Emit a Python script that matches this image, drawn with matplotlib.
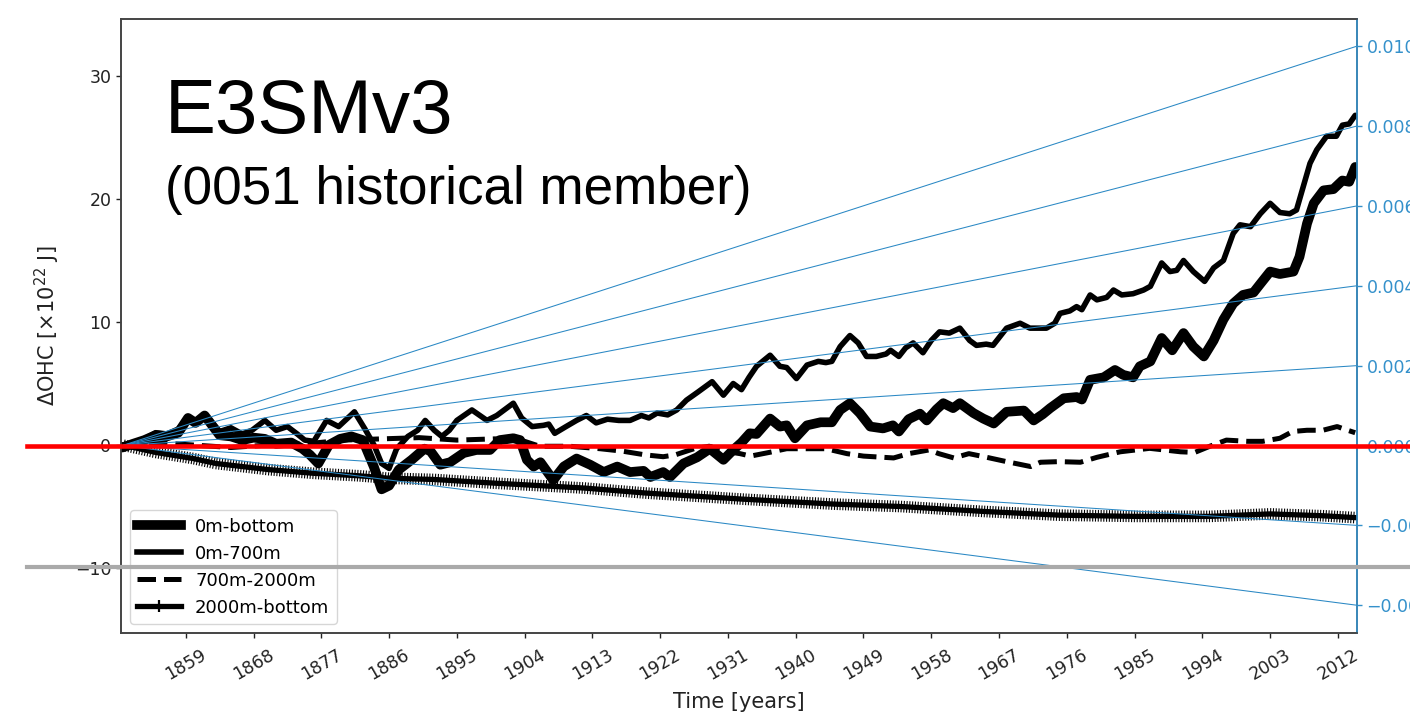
import matplotlib
matplotlib.use("Agg")
import matplotlib.pyplot as plt
from matplotlib.lines import Line2D
from matplotlib import patheffects as pe
from matplotlib.transforms import blended_transform_factory

# ---------------------------------------------------------------------------
# Ocean heat content anomaly, E3SMv3 historical member 0051  [10^22 J]
# ---------------------------------------------------------------------------
yrs_total = [1850.6, 1852.0, 1853.5, 1855.0, 1856.5, 1858.0, 1859.3, 1860.3, 1861.5, 1862.5,
             1863.5, 1865.0, 1866.5, 1868.0, 1869.5, 1871.0, 1873.0, 1874.5, 1875.5, 1876.6,
             1878.0, 1879.5, 1881.0, 1882.5, 1884.0, 1885.0, 1886.0, 1887.3, 1889.0, 1890.7,
             1891.5, 1892.8, 1894.1, 1895.9, 1897.6, 1899.4, 1900.7, 1902.5, 1903.4, 1904.3,
             1905.2, 1906.1, 1907.8, 1909.2, 1910.9, 1912.7, 1914.5, 1916.3, 1918.0, 1919.8,
             1920.7, 1922.4, 1923.3, 1925.1, 1926.9, 1928.6, 1930.4, 1931.7, 1932.8, 1933.9,
             1934.8, 1936.6, 1937.9, 1938.8, 1939.9, 1941.5, 1943.3, 1944.8, 1945.9, 1947.2,
             1948.5, 1949.9, 1951.6, 1952.9, 1953.7, 1955.0, 1956.5, 1957.4, 1958.7, 1959.6,
             1960.9, 1961.8, 1963.6, 1964.9, 1966.3, 1968.0, 1970.3, 1971.6, 1972.8, 1973.8,
             1975.6, 1977.3, 1978.0, 1979.1, 1980.9, 1982.4, 1983.5, 1984.8, 1985.7, 1987.1,
             1988.6, 1990.0, 1991.5, 1992.8, 1994.2, 1995.5, 1996.8, 1998.1, 1999.4, 2000.8,
             2001.7, 2003.0, 2004.3, 2006.1, 2006.9, 2007.9, 2008.8, 2010.1, 2011.4, 2012.6,
             2013.5, 2014.3]
ohc_total = [-0.2, 0.1, 0.4, 0.8, 0.7, 1.0, 2.2, 1.8, 2.4, 1.6,
             0.8, 0.7, 0.4, 0.6, 0.5, 0.1, 0.2, -0.3, -0.8, -1.5,
             0.0, 0.5, 0.7, 0.4, -1.8, -3.6, -3.3, -2.0, -1.2, -0.3,
             -0.5, -1.6, -1.4, -0.65, -0.4, -0.4, 0.4, 0.55, 0.4, -1.2,
             -1.75, -1.4, -2.85, -1.75, -1.1, -1.6, -2.2, -1.75, -2.2, -2.1,
             -2.6, -2.2, -2.6, -1.5, -1.0, -0.3, -1.2, -0.4, 0.2, 0.95,
             0.9, 2.15, 1.5, 1.6, 0.55, 1.6, 1.85, 1.85, 2.85, 3.4,
             2.6, 1.5, 1.35, 1.6, 1.1, 2.1, 2.55, 2.0, 2.9, 3.4,
             3.0, 3.4, 2.6, 2.15, 1.75, 2.7, 2.8, 2.0, 2.5, 3.0,
             3.8, 3.9, 3.7, 5.3, 5.5, 6.1, 5.7, 5.5, 6.4, 6.8,
             8.7, 7.7, 9.1, 8.0, 7.2, 8.5, 10.2, 11.5, 12.2, 12.4,
             13.1, 14.1, 13.9, 14.1, 15.3, 18.0, 19.65, 20.7, 20.8, 21.5,
             21.4, 22.6]

yrs_upper = [1850.6, 1852.0, 1853.5, 1855.0, 1856.5, 1858.0, 1859.3, 1860.3, 1861.5, 1862.5,
             1863.5, 1865.0, 1866.5, 1867.8, 1869.5, 1871.0, 1872.5, 1873.8, 1874.8, 1876.0,
             1877.7, 1879.3, 1881.4, 1882.8, 1884.0, 1885.0, 1886.0, 1887.0, 1888.5, 1889.8,
             1890.8, 1892.0, 1893.0, 1894.0, 1895.0, 1897.0, 1899.0, 1900.3, 1902.5, 1903.6,
             1905.0, 1906.5, 1907.2, 1908.0, 1909.5, 1910.9, 1912.2, 1913.5, 1915.0, 1916.5,
             1918.0, 1919.5, 1920.5, 1921.6, 1923.0, 1924.2, 1925.5, 1927.0, 1928.9, 1930.4,
             1931.7, 1932.8, 1933.8, 1934.8, 1936.6, 1937.9, 1938.8, 1940.1, 1941.5, 1943.0,
             1944.0, 1944.8, 1945.9, 1947.2, 1948.3, 1949.4, 1950.7, 1952.0, 1952.6, 1953.7,
             1954.6, 1955.6, 1956.9, 1958.0, 1959.1, 1960.4, 1961.8, 1963.1, 1964.0, 1965.3,
             1966.2, 1967.1, 1968.0, 1969.8, 1971.1, 1973.3, 1974.4, 1975.1, 1976.4, 1977.3,
             1978.0, 1979.1, 1980.0, 1981.3, 1982.2, 1983.3, 1984.8, 1986.2, 1987.1, 1988.6,
             1989.7, 1990.6, 1991.5, 1992.8, 1994.3, 1995.5, 1996.8, 1998.1, 1999.0, 2000.4,
             2001.7, 2003.0, 2004.3, 2005.6, 2006.5, 2007.4, 2008.3, 2009.2, 2010.5, 2011.8,
             2012.6, 2013.5, 2014.3]
ohc_upper = [0.0, 0.2, 0.5, 1.0, 0.9, 1.3, 2.2, 1.9, 2.5, 1.8,
             1.1, 1.4, 0.9, 1.2, 2.0, 1.2, 1.5, 0.9, 0.4, 0.3,
             2.0, 1.5, 2.7, 1.3, 0.0, -1.5, -1.9, -0.3, 0.7, 1.2,
             2.0, 1.2, 0.7, 1.2, 2.0, 2.85, 2.0, 2.4, 3.4, 2.2,
             1.5, 1.6, 1.7, 0.95, 1.5, 2.0, 2.4, 1.8, 2.1, 2.0,
             2.0, 2.4, 2.2, 2.6, 2.45, 2.85, 3.65, 4.3, 5.15, 4.05,
             5.0, 4.5, 5.5, 6.4, 7.3, 6.4, 6.3, 5.4, 6.5, 6.8,
             6.7, 6.8, 8.0, 8.9, 8.3, 7.2, 7.2, 7.4, 7.7, 7.2,
             7.9, 8.3, 7.5, 8.5, 9.2, 9.1, 9.5, 8.5, 8.1, 8.2,
             8.1, 8.8, 9.5, 9.9, 9.5, 9.5, 9.9, 10.7, 10.9, 11.25,
             11.0, 12.2, 11.8, 12.0, 12.6, 12.2, 12.3, 12.6, 12.9, 14.8,
             14.1, 14.2, 15.0, 14.1, 13.3, 14.4, 15.0, 17.2, 17.9, 17.75,
             18.8, 19.65, 18.9, 18.8, 19.1, 21.0, 22.9, 24.0, 25.1, 25.1,
             26.0, 26.1, 26.8]

yrs_mid = [1850.6, 1855.0, 1860.0, 1865.0, 1870.0, 1875.0, 1880.0, 1885.0, 1890.0, 1895.0,
           1900.0, 1903.0, 1906.0, 1910.0, 1914.0, 1917.0, 1920.0, 1922.4, 1924.0, 1926.5,
           1928.5, 1930.5, 1932.6, 1934.0, 1936.5, 1938.8, 1941.5, 1944.0, 1946.8, 1949.0,
           1953.0, 1955.0, 1957.7, 1959.0, 1961.0, 1963.0, 1965.0, 1968.0, 1971.2, 1972.5,
           1975.0, 1977.8, 1980.0, 1983.1, 1987.0, 1991.1, 1993.0, 1995.0, 1997.2, 2000.0,
           2002.0, 2004.3, 2006.0, 2007.9, 2010.0, 2011.9, 2013.3, 2014.3]
ohc_mid = [0.0, 0.2, 0.0, -0.2, 0.0, 0.1, 0.4, 0.5, 0.6, 0.4,
           0.5, 0.5, -0.1, -0.1, -0.3, -0.5, -0.8, -0.95, -0.8, -0.3,
           -0.1, -0.5, -0.7, -0.9, -0.6, -0.3, -0.3, -0.3, -0.7, -0.9,
           -1.05, -0.7, -0.4, -0.7, -1.05, -0.7, -0.95, -1.35, -1.75, -1.4,
           -1.35, -1.4, -1.0, -0.55, -0.27, -0.55, -0.6, -0.1, 0.4, 0.3,
           0.3, 0.55, 1.1, 1.2, 1.2, 1.5, 1.2, 1.0]

yrs_deep = [1850.6, 1855.0, 1860.0, 1863.0, 1870.0, 1876.0, 1882.0, 1886.0, 1892.0, 1900.0,
            1912.0, 1920.0, 1933.0, 1945.0, 1954.0, 1965.0, 1975.0, 1985.0, 1995.0, 2003.0,
            2010.0, 2014.3]
ohc_deep = [0.0, -0.6, -1.1, -1.5, -2.0, -2.3, -2.5, -2.7, -2.8, -3.1,
            -3.5, -3.9, -4.4, -4.8, -5.0, -5.4, -5.7, -5.8, -5.8, -5.6,
            -5.75, -5.9]

series_labels = ["0m-bottom", "0m-700m", "700m-2000m", "2000m-bottom"]

# heating-rate guide lines (right axis units)
rate_ticks = [-0.004, -0.002, 0.0, 0.002, 0.004, 0.006, 0.008, 0.010]
rate_labels = ["\u22120.004", "\u22120.002", "0.000", "0.002", "0.004", "0.006", "0.008", "0.010"]

ohc_ticks = [-10, 0, 10, 20, 30]
year_ticks = list(range(1859, 2013, 9))
reference_level = -9.9

# ---------------------------------------------------------------------------
blue = "#3591cb"
fan_blue = "#2a88c4"
spine_grey = "#444444"

fig = plt.figure(figsize=(14.1, 7.16), dpi=100)
fig.patch.set_facecolor("white")
ax = fig.add_axes([0.08582, 0.11592, 0.87638, 0.85754])

ax.plot(yrs_total, ohc_total, color="k", lw=7.0, solid_joinstyle="round",
        solid_capstyle="round", zorder=3)
ax.plot(yrs_upper, ohc_upper, color="k", lw=4.0, solid_joinstyle="round",
        solid_capstyle="round", zorder=3)
ax.plot(yrs_mid, ohc_mid, color="k", lw=3.6, ls="--", zorder=3)
ax.plot(yrs_deep, ohc_deep, color="k", lw=3.8, zorder=3,
        path_effects=[pe.Normal(),
                      pe.TickedStroke(spacing=2.0, angle=90, length=1.9, linewidth=0.8),
                      pe.TickedStroke(spacing=2.0, angle=-90, length=1.9, linewidth=0.8)])

ax.set_xlim(1850.4, 2014.5)
ax.set_ylim(-15.28, 34.63)
ax.set_yticks(ohc_ticks)
ax.set_xticks(year_ticks)
ax.set_xticklabels([str(y) for y in year_ticks], rotation=30)
ax.tick_params(axis="both", labelsize=12.5, colors="#222222", width=1.0)
ax.tick_params(axis="x", pad=6)
for s in ax.spines.values():
    s.set_color(spine_grey)
    s.set_linewidth(1.2)

ax.set_xlabel("Time [years]", fontsize=15, color="#222222", labelpad=6)
ax.set_ylabel(r"$\Delta$OHC [$\times10^{22}$ J]", fontsize=15, color="#222222", labelpad=9)

ax.text(0.0356, 0.8148, "E3SMv3", transform=ax.transAxes, fontsize=55,
        family="Liberation Sans", va="baseline", ha="left", color="k")
ax.text(0.0355, 0.6987, "(0051 historical member)", transform=ax.transAxes, fontsize=38.2,
        family="Liberation Sans", va="baseline", ha="left", color="k")

handles = [
    Line2D([], [], color="k", lw=7.0),
    Line2D([], [], color="k", lw=4.0),
    Line2D([], [], color="k", lw=3.6, ls="--"),
    Line2D([], [], color="k", lw=3.8, marker="+", ms=8, mew=1.6),
]
ax.legend(handles, series_labels, loc="lower left", fontsize=13, handlelength=2.4,
          framealpha=0.8)

# right-hand axis with constant-rate guide lines
ax2 = ax.twinx()
ax2.set_ylim(-0.004696, 0.010682)
ax2.set_yticks(rate_ticks)
ax2.set_yticklabels(rate_labels)
ax2.tick_params(axis="y", labelsize=12.5, colors=blue, width=1.0)
ax2.spines["right"].set_color(blue)
ax2.spines["right"].set_linewidth(1.2)
for side in ("left", "top", "bottom"):
    ax2.spines[side].set_color(spine_grey)
    ax2.spines[side].set_linewidth(1.2)

x0 = yrs_total[0]
x1 = ax.get_xlim()[1]
for v in rate_ticks:
    ax2.plot([x0, x1], [0.0, v], color=fan_blue, lw=0.75, zorder=2)
ax2.set_xlim(ax.get_xlim())

# zero line and reference level, extended past the frame
ax2.axhline(0.0, xmin=-0.076, xmax=1.06, color="#ff0000", lw=3.3, clip_on=False, zorder=6)
grey_tr = blended_transform_factory(ax2.transAxes, ax.transData)
ax2.add_line(Line2D([-0.076, 1.06], [reference_level, reference_level], transform=grey_tr,
                    color="#aaaaaa", lw=3.0, clip_on=False, zorder=6))

fig.savefig("out.png", dpi=100, facecolor="white")
